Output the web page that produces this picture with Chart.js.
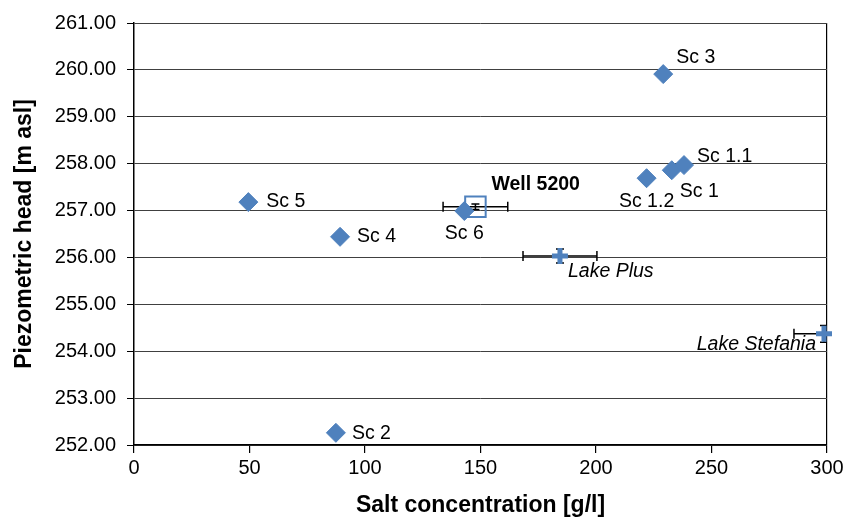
<!DOCTYPE html>
<html><head><meta charset="utf-8">
<script src="https://cdn.jsdelivr.net/npm/chart.js@4.4.0/dist/chart.umd.min.js"></script>
<style>html,body{margin:0;padding:0;background:#fff}</style>
</head><body>
<canvas id="c" width="854" height="518"></canvas>
<script>
// ---- data ----
const scenarioLabels = ['Sc 1', 'Sc 1.1', 'Sc 1.2', 'Sc 2', 'Sc 3', 'Sc 4', 'Sc 5', 'Sc 6'];
const scenarioSalt   = [232.8, 238.1, 221.9, 87.4, 229.1, 89.2, 49.5, 143.0];
const scenarioHead   = [257.86, 257.97, 257.69, 252.26, 259.91, 256.44, 257.18, 256.99];

const wellLabels  = ['Well 5200'];
const wellSalt    = [147.8];
const wellHead    = [257.08];
const wellSaltErr = [14];
const wellHeadErr = [0.06];

const lakeLabels       = ['Lake Plus', 'Lake Stefania'];
const lakeSalt         = [184.4, 298.7];
const lakeHead         = [256.03, 254.37];
const lakeSaltErr      = [16, 13];
const lakeHeadErr      = [0.15, 0.18];

const yTickValues = [252, 253, 254, 255, 256, 257, 258, 259, 260, 261];
const xTickValues = [0, 50, 100, 150, 200, 250, 300];

const FONT = "'Liberation Sans', Arial, sans-serif";
const BLUE = '#4F81BD';

function pts(xs, ys) { return xs.map((x, i) => ({x: x, y: ys[i]})); }

// label placement (style only)
const labelStyle = {
  'Sc 1':   {dx: 8,  dy: 21, align: 'left'},
  'Sc 1.1': {dx: 13, dy: -8, align: 'left'},
  'Sc 1.2': {dx: 0,  dy: 23, align: 'center'},
  'Sc 2':   {dx: 16, dy: 1,  align: 'left'},
  'Sc 3':   {dx: 13, dy: -16, align: 'left'},
  'Sc 4':   {dx: 17, dy: 0,  align: 'left'},
  'Sc 5':   {dx: 18, dy: 0,  align: 'left'},
  'Sc 6':   {dx: 0,  dy: 23, align: 'center'},
  'Well 5200': {dx: 16, dy: -22, align: 'left', font: 'bold 19.5px ' + FONT},
  'Lake Plus': {dx: 8, dy: 16, align: 'left', font: 'italic 19.5px ' + FONT},
  'Lake Stefania': {dx: -8, dy: 11, align: 'right', font: 'italic 19.5px ' + FONT}
};

const errorBars = {
  id: 'errorBars',
  beforeDatasetsDraw(chart) {
    const ctx = chart.ctx, xs = chart.scales.x, ys = chart.scales.y, a = chart.chartArea;
    ctx.save();
    ctx.beginPath();
    ctx.rect(a.left, a.top, a.right - a.left, a.bottom - a.top);
    ctx.clip();
    ctx.strokeStyle = '#000';
    ctx.lineWidth = 1.5;
    const draw = (x, y, ex, ey) => {
      const px = xs.getPixelForValue(x), py = ys.getPixelForValue(y);
      const x1 = xs.getPixelForValue(x - ex), x2 = xs.getPixelForValue(x + ex);
      const y1 = ys.getPixelForValue(y - ey), y2 = ys.getPixelForValue(y + ey);
      const c = 5;
      ctx.beginPath();
      ctx.moveTo(x1, py); ctx.lineTo(x2, py);
      ctx.moveTo(x1, py - c); ctx.lineTo(x1, py + c);
      ctx.moveTo(x2, py - c); ctx.lineTo(x2, py + c);
      ctx.moveTo(px, y1); ctx.lineTo(px, y2);
      ctx.moveTo(px - 4, y1); ctx.lineTo(px + 4, y1);
      ctx.moveTo(px - 4, y2); ctx.lineTo(px + 4, y2);
      ctx.stroke();
    };
    wellSalt.forEach((x, i) => draw(x, wellHead[i], wellSaltErr[i], wellHeadErr[i]));
    lakeSalt.forEach((x, i) => draw(x, lakeHead[i], lakeSaltErr[i], lakeHeadErr[i]));
    ctx.restore();
  }
};

const pointLabels = {
  id: 'pointLabels',
  afterDatasetsDraw(chart) {
    const ctx = chart.ctx;
    ctx.save();
    ctx.fillStyle = '#000';
    ctx.textBaseline = 'middle';
    chart.data.datasets.forEach((ds, di) => {
      const meta = chart.getDatasetMeta(di);
      ds.pointLabels.forEach((txt, i) => {
        const el = meta.data[i];
        const s = labelStyle[txt];
        ctx.font = s.font || ('19.5px ' + FONT);
        ctx.textAlign = s.align;
        ctx.fillText(txt, el.x + s.dx, el.y + s.dy);
      });
    });
    ctx.restore();
  }
};

new Chart(document.getElementById('c'), {
  type: 'scatter',
  data: {
    datasets: [
      {
        label: 'Scenarios', data: pts(scenarioSalt, scenarioHead), pointLabels: scenarioLabels,
        pointStyle: 'rectRot', pointRadius: 9.5, backgroundColor: BLUE, borderColor: BLUE, borderWidth: 1,
        pointHoverRadius: 9.5, clip: false
      },
      {
        label: 'Well', data: pts(wellSalt, wellHead), pointLabels: wellLabels,
        pointStyle: 'rect', pointRadius: 14.5, backgroundColor: 'rgba(0,0,0,0)', borderColor: BLUE, borderWidth: 2,
        clip: false
      },
      {
        label: 'Lakes', data: pts(lakeSalt, lakeHead), pointLabels: lakeLabels,
        pointStyle: 'cross', pointRadius: 8, borderColor: BLUE, backgroundColor: BLUE, borderWidth: 5,
        clip: false
      }
    ]
  },
  options: {
    responsive: false,
    animation: false,
    events: [],
    layout: {padding: {top: 22, right: 27, left: 0, bottom: 0}},
    plugins: {legend: {display: false}, tooltip: {enabled: false}},
    scales: {
      x: {
        type: 'linear', min: 0, max: 300,
        afterBuildTicks: s => { s.ticks = xTickValues.map(v => ({value: v})); },
        afterFit: s => { s.height = 73; },
        ticks: {color: '#000', font: {family: FONT, size: 20}, padding: 3, maxRotation: 0},
        grid: {
          color: c => (c.tick && c.tick.value === 300) ? '#000' : 'rgba(0,0,0,0)',
          tickColor: '#000', tickLength: 8, lineWidth: 1.2
        },
        border: {display: true, color: '#000', width: 1.5},
        title: {display: true, text: 'Salt concentration [g/l]', color: '#000',
                font: {family: FONT, size: 23, weight: 'bold'}, padding: {top: 0, bottom: -1}}
      },
      y: {
        type: 'linear', min: 252, max: 261,
        afterBuildTicks: s => { s.ticks = yTickValues.map(v => ({value: v})); },
        afterFit: s => { s.width = 134; },
        ticks: {color: '#000', font: {family: FONT, size: 20}, padding: 11,
                callback: v => Number(v).toFixed(2)},
        grid: {color: '#404040', tickColor: '#000', tickLength: 7, lineWidth: 1},
        border: {display: true, color: '#000', width: 1.5},
        title: {display: true, text: 'Piezometric head [m asl]', color: '#000',
                font: {family: FONT, size: 23, weight: 'bold'}, padding: {top: 11, bottom: 0}}
      }
    }
  },
  plugins: [errorBars, pointLabels]
});
</script>
</body></html>
